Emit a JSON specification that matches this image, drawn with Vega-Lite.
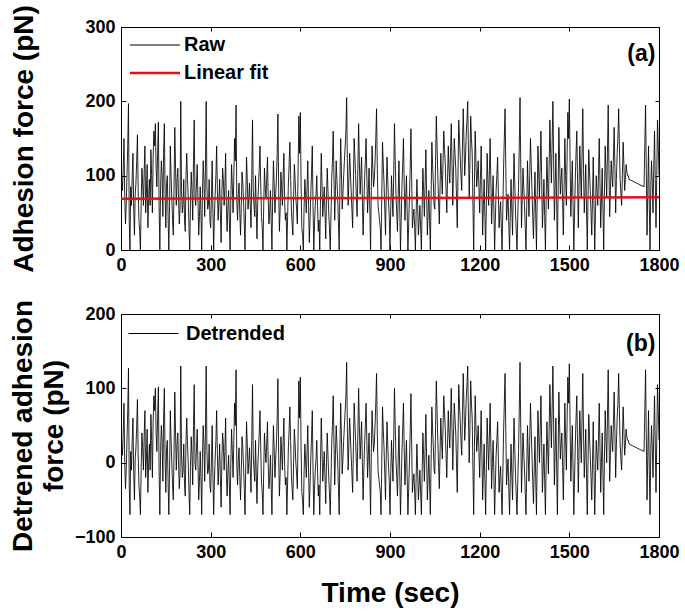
{
"$schema": "https://vega.github.io/schema/vega-lite/v6.json",
"padding": {"left": 8, "top": 4, "right": 10, "bottom": 4},
"background": "white",
"config": {
 "font": "Liberation Sans",
 "view": {"stroke": "black", "strokeWidth": 1},
 "axis": {"labelFont": "Liberation Sans", "labelFontWeight": "bold", "labelFontSize": 18, "labelColor": "black", "titleFont": "Liberation Sans", "titleFontWeight": "bold", "titleColor": "black", "grid": false, "domain": false, "tickColor": "black", "tickSize": -5, "labelPadding": 11, "labelFlush": false, "labelOverlap": false},
 "legend": {"orient": "none", "title": null, "symbolType": "stroke", "symbolSize": 2500, "labelFont": "Liberation Sans", "labelFontWeight": "bold", "labelFontSize": 20, "labelColor": "black", "labelOffset": 19, "rowPadding": 8, "padding": 0}
},
"datasets": {
 "s": [
{"t":0,"r":120,"d":50},{"t":5,"r":80,"d":10},{"t":10,"r":150,"d":80},{"t":15,"r":35,"d":-35},{"t":20,"r":100,"d":30},{"t":25,"r":197,"d":127},{"t":30,"r":0,"d":-70},{"t":35,"r":60,"d":-10},{"t":40,"r":130,"d":60},{"t":45,"r":20,"d":-50},
{"t":50,"r":90,"d":20},{"t":55,"r":155,"d":85},{"t":60,"r":40,"d":-30},{"t":65,"r":0,"d":-70},{"t":70,"r":110,"d":40},{"t":75,"r":60,"d":-10},{"t":80,"r":140,"d":70},{"t":85,"r":75,"d":5},{"t":90,"r":30,"d":-40},{"t":95,"r":95,"d":25},
{"t":100,"r":135,"d":65},{"t":105,"r":50,"d":-20},{"t":110,"r":160,"d":90},{"t":115,"r":170,"d":100},{"t":120,"r":85,"d":15},{"t":125,"r":172,"d":102},{"t":130,"r":0,"d":-70},{"t":135,"r":120,"d":50},{"t":140,"r":45,"d":-25},{"t":145,"r":170,"d":100},
{"t":150,"r":30,"d":-40},{"t":155,"r":100,"d":30},{"t":160,"r":0,"d":-70},{"t":165,"r":140,"d":70},{"t":170,"r":70,"d":0},{"t":175,"r":20,"d":-50},{"t":180,"r":165,"d":95},{"t":185,"r":60,"d":-10},{"t":190,"r":110,"d":40},{"t":195,"r":35,"d":-35},
{"t":200,"r":200,"d":130},{"t":205,"r":50,"d":-20},{"t":210,"r":95,"d":25},{"t":215,"r":25,"d":-45},{"t":220,"r":130,"d":60},{"t":225,"r":70,"d":0},{"t":230,"r":0,"d":-70},{"t":235,"r":105,"d":35},{"t":240,"r":40,"d":-30},{"t":245,"r":175,"d":105},
{"t":250,"r":60,"d":-10},{"t":255,"r":115,"d":45},{"t":260,"r":20,"d":-50},{"t":265,"r":85,"d":15},{"t":270,"r":0,"d":-70},{"t":275,"r":120,"d":50},{"t":280,"r":45,"d":-25},{"t":285,"r":200,"d":130},{"t":290,"r":55,"d":-15},{"t":295,"r":95,"d":25},
{"t":300,"r":30,"d":-40},{"t":305,"r":120,"d":50},{"t":310,"r":0,"d":-70},{"t":315,"r":75,"d":5},{"t":320,"r":140,"d":70},{"t":325,"r":40,"d":-30},{"t":330,"r":95,"d":25},{"t":335,"r":10,"d":-60},{"t":340,"r":110,"d":40},{"t":345,"r":60,"d":-10},
{"t":350,"r":130,"d":60},{"t":355,"r":25,"d":-45},{"t":360,"r":80,"d":10},{"t":365,"r":0,"d":-70},{"t":370,"r":115,"d":45},{"t":375,"r":50,"d":-20},{"t":380,"r":150,"d":80},{"t":385,"r":195,"d":125},{"t":390,"r":40,"d":-30},{"t":395,"r":90,"d":20},
{"t":400,"r":20,"d":-50},{"t":405,"r":105,"d":35},{"t":410,"r":65,"d":-5},{"t":415,"r":0,"d":-70},{"t":420,"r":125,"d":55},{"t":425,"r":55,"d":-15},{"t":430,"r":90,"d":20},{"t":435,"r":30,"d":-40},{"t":440,"r":175,"d":105},{"t":445,"r":60,"d":-10},
{"t":450,"r":100,"d":30},{"t":455,"r":15,"d":-55},{"t":460,"r":85,"d":15},{"t":465,"r":140,"d":70},{"t":470,"r":45,"d":-25},{"t":475,"r":0,"d":-70},{"t":480,"r":110,"d":40},{"t":485,"r":70,"d":0},{"t":490,"r":125,"d":55},{"t":495,"r":35,"d":-35},
{"t":500,"r":80,"d":10},{"t":505,"r":0,"d":-70},{"t":510,"r":120,"d":50},{"t":515,"r":50,"d":-20},{"t":520,"r":95,"d":25},{"t":525,"r":183,"d":113},{"t":530,"r":25,"d":-45},{"t":535,"r":105,"d":35},{"t":540,"r":60,"d":-10},{"t":545,"r":130,"d":60},
{"t":550,"r":40,"d":-30},{"t":555,"r":0,"d":-70},{"t":560,"r":90,"d":20},{"t":565,"r":145,"d":75},{"t":570,"r":55,"d":-15},{"t":575,"r":20,"d":-50},{"t":580,"r":115,"d":45},{"t":585,"r":70,"d":0},{"t":590,"r":35,"d":-35},{"t":595,"r":180,"d":110},
{"t":600,"r":185,"d":115},{"t":605,"r":30,"d":-40},{"t":610,"r":0,"d":-70},{"t":615,"r":95,"d":25},{"t":620,"r":50,"d":-20},{"t":625,"r":120,"d":50},{"t":630,"r":10,"d":-60},{"t":635,"r":75,"d":5},{"t":640,"r":140,"d":70},{"t":645,"r":0,"d":-70},
{"t":650,"r":60,"d":-10},{"t":655,"r":100,"d":30},{"t":660,"r":25,"d":-45},{"t":665,"r":0,"d":-70},{"t":670,"r":130,"d":60},{"t":675,"r":45,"d":-25},{"t":680,"r":85,"d":15},{"t":685,"r":15,"d":-55},{"t":690,"r":110,"d":40},{"t":695,"r":50,"d":-20},
{"t":700,"r":0,"d":-70},{"t":705,"r":95,"d":25},{"t":710,"r":160,"d":90},{"t":715,"r":40,"d":-30},{"t":720,"r":120,"d":50},{"t":725,"r":70,"d":0},{"t":730,"r":0,"d":-70},{"t":735,"r":150,"d":80},{"t":740,"r":55,"d":-15},{"t":745,"r":100,"d":30},
{"t":750,"r":140,"d":70},{"t":755,"r":205,"d":135},{"t":760,"r":60,"d":-10},{"t":765,"r":130,"d":60},{"t":770,"r":80,"d":10},{"t":775,"r":30,"d":-40},{"t":780,"r":150,"d":80},{"t":785,"r":100,"d":30},{"t":790,"r":45,"d":-25},{"t":795,"r":170,"d":100},
{"t":800,"r":75,"d":5},{"t":805,"r":125,"d":55},{"t":810,"r":20,"d":-50},{"t":815,"r":95,"d":25},{"t":820,"r":150,"d":80},{"t":825,"r":50,"d":-20},{"t":830,"r":110,"d":40},{"t":835,"r":0,"d":-70},{"t":840,"r":140,"d":70},{"t":845,"r":85,"d":15},
{"t":850,"r":120,"d":50},{"t":855,"r":190,"d":120},{"t":860,"r":60,"d":-10},{"t":865,"r":40,"d":-30},{"t":870,"r":0,"d":-70},{"t":875,"r":145,"d":75},{"t":880,"r":90,"d":20},{"t":885,"r":20,"d":-50},{"t":890,"r":125,"d":55},{"t":895,"r":65,"d":-5},
{"t":900,"r":0,"d":-70},{"t":905,"r":100,"d":30},{"t":910,"r":45,"d":-25},{"t":915,"r":170,"d":100},{"t":920,"r":75,"d":5},{"t":925,"r":25,"d":-45},{"t":930,"r":120,"d":50},{"t":935,"r":0,"d":-70},{"t":940,"r":85,"d":15},{"t":945,"r":150,"d":80},
{"t":950,"r":40,"d":-30},{"t":955,"r":100,"d":30},{"t":960,"r":0,"d":-70},{"t":965,"r":70,"d":0},{"t":970,"r":163,"d":93},{"t":975,"r":30,"d":-40},{"t":980,"r":55,"d":-15},{"t":985,"r":0,"d":-70},{"t":990,"r":95,"d":25},{"t":995,"r":20,"d":-50},
{"t":1000,"r":60,"d":-10},{"t":1005,"r":0,"d":-70},{"t":1010,"r":110,"d":40},{"t":1015,"r":45,"d":-25},{"t":1020,"r":135,"d":65},{"t":1025,"r":20,"d":-50},{"t":1030,"r":80,"d":10},{"t":1035,"r":0,"d":-70},{"t":1040,"r":145,"d":75},{"t":1045,"r":90,"d":20},
{"t":1050,"r":55,"d":-15},{"t":1055,"r":180,"d":110},{"t":1060,"r":100,"d":30},{"t":1065,"r":35,"d":-35},{"t":1070,"r":130,"d":60},{"t":1075,"r":75,"d":5},{"t":1080,"r":160,"d":90},{"t":1085,"r":115,"d":45},{"t":1090,"r":50,"d":-20},{"t":1095,"r":140,"d":70},
{"t":1100,"r":90,"d":20},{"t":1105,"r":170,"d":100},{"t":1110,"r":60,"d":-10},{"t":1115,"r":150,"d":80},{"t":1120,"r":110,"d":40},{"t":1125,"r":30,"d":-40},{"t":1130,"r":175,"d":105},{"t":1135,"r":125,"d":55},{"t":1140,"r":80,"d":10},{"t":1145,"r":190,"d":120},
{"t":1150,"r":100,"d":30},{"t":1155,"r":155,"d":85},{"t":1160,"r":200,"d":130},{"t":1165,"r":70,"d":0},{"t":1170,"r":180,"d":110},{"t":1175,"r":130,"d":60},{"t":1180,"r":0,"d":-70},{"t":1185,"r":160,"d":90},{"t":1190,"r":85,"d":15},{"t":1195,"r":120,"d":50},
{"t":1200,"r":50,"d":-20},{"t":1205,"r":140,"d":70},{"t":1210,"r":20,"d":-50},{"t":1215,"r":95,"d":25},{"t":1220,"r":0,"d":-70},{"t":1225,"r":130,"d":60},{"t":1230,"r":60,"d":-10},{"t":1235,"r":150,"d":80},{"t":1240,"r":35,"d":-35},{"t":1245,"r":100,"d":30},
{"t":1250,"r":0,"d":-70},{"t":1255,"r":80,"d":10},{"t":1260,"r":125,"d":55},{"t":1265,"r":30,"d":-40},{"t":1270,"r":65,"d":-5},{"t":1275,"r":0,"d":-70},{"t":1280,"r":110,"d":40},{"t":1285,"r":190,"d":120},{"t":1290,"r":40,"d":-30},{"t":1295,"r":75,"d":5},
{"t":1300,"r":0,"d":-70},{"t":1305,"r":95,"d":25},{"t":1310,"r":20,"d":-50},{"t":1315,"r":130,"d":60},{"t":1320,"r":50,"d":-20},{"t":1325,"r":0,"d":-70},{"t":1330,"r":85,"d":15},{"t":1335,"r":205,"d":135},{"t":1340,"r":30,"d":-40},{"t":1345,"r":110,"d":40},
{"t":1350,"r":60,"d":-10},{"t":1355,"r":0,"d":-70},{"t":1360,"r":120,"d":50},{"t":1365,"r":45,"d":-25},{"t":1370,"r":150,"d":80},{"t":1375,"r":80,"d":10},{"t":1380,"r":15,"d":-55},{"t":1385,"r":105,"d":35},{"t":1390,"r":0,"d":-70},{"t":1395,"r":140,"d":70},
{"t":1400,"r":70,"d":0},{"t":1405,"r":160,"d":90},{"t":1410,"r":30,"d":-40},{"t":1415,"r":95,"d":25},{"t":1420,"r":0,"d":-70},{"t":1425,"r":125,"d":55},{"t":1430,"r":55,"d":-15},{"t":1435,"r":175,"d":105},{"t":1440,"r":90,"d":20},{"t":1445,"r":200,"d":130},
{"t":1450,"r":40,"d":-30},{"t":1455,"r":130,"d":60},{"t":1460,"r":0,"d":-70},{"t":1465,"r":165,"d":95},{"t":1470,"r":75,"d":5},{"t":1475,"r":110,"d":40},{"t":1480,"r":20,"d":-50},{"t":1485,"r":150,"d":80},{"t":1490,"r":60,"d":-10},{"t":1495,"r":185,"d":115},
{"t":1500,"r":203,"d":133},{"t":1505,"r":45,"d":-25},{"t":1510,"r":120,"d":50},{"t":1515,"r":0,"d":-70},{"t":1520,"r":95,"d":25},{"t":1525,"r":160,"d":90},{"t":1530,"r":30,"d":-40},{"t":1535,"r":140,"d":70},{"t":1540,"r":70,"d":0},{"t":1545,"r":190,"d":120},
{"t":1550,"r":50,"d":-20},{"t":1555,"r":115,"d":45},{"t":1560,"r":0,"d":-70},{"t":1565,"r":135,"d":65},{"t":1570,"r":80,"d":10},{"t":1575,"r":20,"d":-50},{"t":1580,"r":125,"d":55},{"t":1585,"r":0,"d":-70},{"t":1590,"r":100,"d":30},{"t":1595,"r":60,"d":-10},
{"t":1600,"r":150,"d":80},{"t":1605,"r":30,"d":-40},{"t":1610,"r":110,"d":40},{"t":1615,"r":0,"d":-70},{"t":1620,"r":140,"d":70},{"t":1625,"r":70,"d":0},{"t":1630,"r":195,"d":125},{"t":1635,"r":45,"d":-25},{"t":1640,"r":120,"d":50},{"t":1645,"r":85,"d":15},
{"t":1650,"r":165,"d":95},{"t":1655,"r":50,"d":-20},{"t":1660,"r":130,"d":60},{"t":1665,"r":190,"d":120},{"t":1670,"r":95,"d":25},{"t":1675,"r":60,"d":-10},{"t":1680,"r":145,"d":75},{"t":1685,"r":80,"d":10},{"t":1690,"r":115,"d":45},{"t":1695,"r":100,"d":30},
{"t":1700,"r":95,"d":25},
{"t":1750,"r":85,"d":15},{"t":1755,"r":195,"d":125},{"t":1760,"r":20,"d":-50},{"t":1765,"r":140,"d":70},{"t":1770,"r":0,"d":-70},{"t":1775,"r":120,"d":50},{"t":1780,"r":50,"d":-20},{"t":1785,"r":160,"d":90},{"t":1790,"r":30,"d":-40},{"t":1795,"r":175,"d":105},{"t":1800,"r":100,"d":30},
{"t":2.5,"r":95,"d":25},{"t":7.5,"r":110,"d":40},{"t":12.5,"r":70,"d":0},{"t":17.5,"r":60,"d":-10},{"t":22.5,"r":140,"d":70},{"t":27.5,"r":40,"d":-30},{"t":32.5,"r":85,"d":15},{"t":37.5,"r":100,"d":30},{"t":42.5,"r":55,"d":-15},{"t":47.5,"r":75,"d":5},
{"t":52.5,"r":120,"d":50},{"t":57.5,"r":80,"d":10},{"t":62.5,"r":25,"d":-45},{"t":67.5,"r":65,"d":-5},{"t":72.5,"r":90,"d":20},{"t":77.5,"r":105,"d":35},{"t":82.5,"r":50,"d":-20},{"t":87.5,"r":115,"d":45},{"t":92.5,"r":70,"d":0},{"t":97.5,"r":60,"d":-10},
{"t":102.5,"r":100,"d":30},{"t":107.5,"r":125,"d":55},{"t":112.5,"r":140,"d":70},{"t":117.5,"r":110,"d":40},{"t":122.5,"r":130,"d":60},{"t":127.5,"r":60,"d":-10},{"t":132.5,"r":85,"d":15},{"t":137.5,"r":100,"d":30},{"t":142.5,"r":130,"d":60},{"t":147.5,"r":75,"d":5},
{"t":152.5,"r":90,"d":20},{"t":157.5,"r":45,"d":-25},{"t":162.5,"r":60,"d":-10},{"t":167.5,"r":100,"d":30},{"t":172.5,"r":40,"d":-30},{"t":177.5,"r":85,"d":15},{"t":182.5,"r":110,"d":40},{"t":187.5,"r":95,"d":25},{"t":192.5,"r":70,"d":0},{"t":197.5,"r":55,"d":-15},
{"t":202.5,"r":80,"d":10},{"t":207.5,"r":60,"d":-10},{"t":212.5,"r":40,"d":-30},{"t":217.5,"r":100,"d":30},{"t":222.5,"r":95,"d":25},{"t":227.5,"r":30,"d":-40},{"t":232.5,"r":65,"d":-5},{"t":237.5,"r":80,"d":10},{"t":242.5,"r":120,"d":50},{"t":247.5,"r":70,"d":0},
{"t":252.5,"r":90,"d":20},{"t":257.5,"r":70,"d":0},{"t":262.5,"r":45,"d":-25},{"t":267.5,"r":50,"d":-20},{"t":272.5,"r":75,"d":5},{"t":277.5,"r":95,"d":25},{"t":282.5,"r":110,"d":40},{"t":287.5,"r":85,"d":15},{"t":292.5,"r":60,"d":-10},{"t":297.5,"r":40,"d":-30},
{"t":302.5,"r":70,"d":0},{"t":307.5,"r":55,"d":-15},{"t":312.5,"r":45,"d":-25},{"t":317.5,"r":100,"d":30},{"t":322.5,"r":80,"d":10},{"t":327.5,"r":65,"d":-5},{"t":332.5,"r":50,"d":-20},{"t":337.5,"r":75,"d":5},{"t":342.5,"r":95,"d":25},{"t":347.5,"r":85,"d":15},
{"t":352.5,"r":60,"d":-10},{"t":357.5,"r":55,"d":-15},{"t":362.5,"r":40,"d":-30},{"t":367.5,"r":70,"d":0},{"t":372.5,"r":85,"d":15},{"t":377.5,"r":100,"d":30},{"t":382.5,"r":120,"d":50},{"t":387.5,"r":65,"d":-5},{"t":392.5,"r":75,"d":5},{"t":397.5,"r":50,"d":-20},
{"t":402.5,"r":60,"d":-10},{"t":407.5,"r":90,"d":20},{"t":412.5,"r":35,"d":-35},{"t":417.5,"r":70,"d":0},{"t":422.5,"r":95,"d":25},{"t":427.5,"r":70,"d":0},{"t":432.5,"r":60,"d":-10},{"t":437.5,"r":100,"d":30},{"t":442.5,"r":80,"d":10},{"t":447.5,"r":45,"d":-25},
{"t":452.5,"r":55,"d":-15},{"t":457.5,"r":65,"d":-5},{"t":462.5,"r":110,"d":40},{"t":467.5,"r":90,"d":20},{"t":472.5,"r":30,"d":-40},{"t":477.5,"r":60,"d":-10},{"t":482.5,"r":85,"d":15},{"t":487.5,"r":95,"d":25},{"t":492.5,"r":70,"d":0},{"t":497.5,"r":50,"d":-20},
{"t":502.5,"r":40,"d":-30},{"t":507.5,"r":70,"d":0},{"t":512.5,"r":90,"d":20},{"t":517.5,"r":75,"d":5},{"t":522.5,"r":130,"d":60},{"t":527.5,"r":80,"d":10},{"t":532.5,"r":55,"d":-15},{"t":537.5,"r":85,"d":15},{"t":542.5,"r":100,"d":30},{"t":547.5,"r":65,"d":-5},
{"t":552.5,"r":50,"d":-20},{"t":557.5,"r":45,"d":-25},{"t":562.5,"r":115,"d":45},{"t":567.5,"r":100,"d":30},{"t":572.5,"r":35,"d":-35},{"t":577.5,"r":70,"d":0},{"t":582.5,"r":95,"d":25},{"t":587.5,"r":55,"d":-15},{"t":592.5,"r":105,"d":35},{"t":597.5,"r":130,"d":60},
{"t":602.5,"r":90,"d":20},{"t":607.5,"r":20,"d":-50},{"t":612.5,"r":55,"d":-15},{"t":617.5,"r":75,"d":5},{"t":622.5,"r":85,"d":15},{"t":627.5,"r":60,"d":-10},{"t":632.5,"r":40,"d":-30},{"t":637.5,"r":105,"d":35},{"t":642.5,"r":60,"d":-10},{"t":647.5,"r":35,"d":-35},
{"t":652.5,"r":75,"d":5},{"t":657.5,"r":60,"d":-10},{"t":662.5,"r":40,"d":-30},{"t":667.5,"r":70,"d":0},{"t":672.5,"r":90,"d":20},{"t":677.5,"r":65,"d":-5},{"t":682.5,"r":50,"d":-20},{"t":687.5,"r":70,"d":0},{"t":692.5,"r":80,"d":10},{"t":697.5,"r":30,"d":-40},
{"t":702.5,"r":45,"d":-25},{"t":707.5,"r":120,"d":50},{"t":712.5,"r":100,"d":30},{"t":717.5,"r":80,"d":10},{"t":722.5,"r":95,"d":25},{"t":727.5,"r":35,"d":-35},{"t":732.5,"r":90,"d":20},{"t":737.5,"r":105,"d":35},{"t":742.5,"r":75,"d":5},{"t":747.5,"r":120,"d":50},
{"t":752.5,"r":160,"d":90},{"t":757.5,"r":110,"d":40},{"t":762.5,"r":95,"d":25},{"t":767.5,"r":105,"d":35},{"t":772.5,"r":55,"d":-15},{"t":777.5,"r":90,"d":20},{"t":782.5,"r":125,"d":55},{"t":787.5,"r":70,"d":0},{"t":792.5,"r":110,"d":40},{"t":797.5,"r":120,"d":50},
{"t":802.5,"r":100,"d":30},{"t":807.5,"r":70,"d":0},{"t":812.5,"r":60,"d":-10},{"t":817.5,"r":120,"d":50},{"t":822.5,"r":100,"d":30},{"t":827.5,"r":80,"d":10},{"t":832.5,"r":55,"d":-15},{"t":837.5,"r":85,"d":15},{"t":842.5,"r":110,"d":40},{"t":847.5,"r":95,"d":25},
{"t":852.5,"r":150,"d":80},{"t":857.5,"r":110,"d":40},{"t":862.5,"r":50,"d":-20},{"t":867.5,"r":30,"d":-40},{"t":872.5,"r":70,"d":0},{"t":877.5,"r":115,"d":45},{"t":882.5,"r":55,"d":-15},{"t":887.5,"r":80,"d":10},{"t":892.5,"r":95,"d":25},{"t":897.5,"r":45,"d":-25},
{"t":902.5,"r":55,"d":-15},{"t":907.5,"r":70,"d":0},{"t":912.5,"r":105,"d":35},{"t":917.5,"r":120,"d":50},{"t":922.5,"r":50,"d":-20},{"t":927.5,"r":75,"d":5},{"t":932.5,"r":60,"d":-10},{"t":937.5,"r":40,"d":-30},{"t":942.5,"r":115,"d":45},{"t":947.5,"r":90,"d":20},
{"t":952.5,"r":70,"d":0},{"t":957.5,"r":50,"d":-20},{"t":962.5,"r":35,"d":-35},{"t":967.5,"r":110,"d":40},{"t":972.5,"r":95,"d":25},{"t":977.5,"r":45,"d":-25},{"t":982.5,"r":30,"d":-40},{"t":987.5,"r":50,"d":-20},{"t":992.5,"r":60,"d":-10},{"t":997.5,"r":40,"d":-30},
{"t":1002.5,"r":30,"d":-40},{"t":1007.5,"r":55,"d":-15},{"t":1012.5,"r":80,"d":10},{"t":1017.5,"r":90,"d":20},{"t":1022.5,"r":75,"d":5},{"t":1027.5,"r":50,"d":-20},{"t":1032.5,"r":40,"d":-30},{"t":1037.5,"r":70,"d":0},{"t":1042.5,"r":115,"d":45},{"t":1047.5,"r":60,"d":-10},
{"t":1052.5,"r":120,"d":50},{"t":1057.5,"r":140,"d":70},{"t":1062.5,"r":65,"d":-5},{"t":1067.5,"r":85,"d":15},{"t":1072.5,"r":100,"d":30},{"t":1077.5,"r":120,"d":50},{"t":1082.5,"r":135,"d":65},{"t":1087.5,"r":80,"d":10},{"t":1092.5,"r":95,"d":25},{"t":1097.5,"r":110,"d":40},
{"t":1102.5,"r":130,"d":60},{"t":1107.5,"r":115,"d":45},{"t":1112.5,"r":105,"d":35},{"t":1117.5,"r":130,"d":60},{"t":1122.5,"r":70,"d":0},{"t":1127.5,"r":100,"d":30},{"t":1132.5,"r":150,"d":80},{"t":1137.5,"r":100,"d":30},{"t":1142.5,"r":140,"d":70},{"t":1147.5,"r":145,"d":75},
{"t":1152.5,"r":125,"d":55},{"t":1157.5,"r":175,"d":105},{"t":1162.5,"r":130,"d":60},{"t":1167.5,"r":120,"d":50},{"t":1172.5,"r":150,"d":80},{"t":1177.5,"r":60,"d":-10},{"t":1182.5,"r":90,"d":20},{"t":1187.5,"r":120,"d":50},{"t":1192.5,"r":100,"d":30},{"t":1197.5,"r":85,"d":15},
{"t":1202.5,"r":95,"d":25},{"t":1207.5,"r":80,"d":10},{"t":1212.5,"r":60,"d":-10},{"t":1217.5,"r":45,"d":-25},{"t":1222.5,"r":65,"d":-5},{"t":1227.5,"r":95,"d":25},{"t":1232.5,"r":105,"d":35},{"t":1237.5,"r":90,"d":20},{"t":1242.5,"r":70,"d":0},{"t":1247.5,"r":55,"d":-15},
{"t":1252.5,"r":40,"d":-30},{"t":1257.5,"r":100,"d":30},{"t":1262.5,"r":75,"d":5},{"t":1267.5,"r":50,"d":-20},{"t":1272.5,"r":30,"d":-40},{"t":1277.5,"r":55,"d":-15},{"t":1282.5,"r":150,"d":80},{"t":1287.5,"r":110,"d":40},{"t":1292.5,"r":60,"d":-10},{"t":1297.5,"r":35,"d":-35},
{"t":1302.5,"r":50,"d":-20},{"t":1307.5,"r":55,"d":-15},{"t":1312.5,"r":80,"d":10},{"t":1317.5,"r":90,"d":20},{"t":1322.5,"r":25,"d":-45},{"t":1327.5,"r":45,"d":-25},{"t":1332.5,"r":140,"d":70},{"t":1337.5,"r":115,"d":45},{"t":1342.5,"r":70,"d":0},{"t":1347.5,"r":85,"d":15},
{"t":1352.5,"r":30,"d":-40},{"t":1357.5,"r":60,"d":-10},{"t":1362.5,"r":80,"d":10},{"t":1367.5,"r":100,"d":30},{"t":1372.5,"r":115,"d":45},{"t":1377.5,"r":45,"d":-25},{"t":1382.5,"r":60,"d":-10},{"t":1387.5,"r":50,"d":-20},{"t":1392.5,"r":70,"d":0},{"t":1397.5,"r":105,"d":35},
{"t":1402.5,"r":115,"d":45},{"t":1407.5,"r":95,"d":25},{"t":1412.5,"r":60,"d":-10},{"t":1417.5,"r":45,"d":-25},{"t":1422.5,"r":65,"d":-5},{"t":1427.5,"r":90,"d":20},{"t":1432.5,"r":115,"d":45},{"t":1437.5,"r":130,"d":60},{"t":1442.5,"r":145,"d":75},{"t":1447.5,"r":120,"d":50},
{"t":1452.5,"r":85,"d":15},{"t":1457.5,"r":65,"d":-5},{"t":1462.5,"r":80,"d":10},{"t":1467.5,"r":120,"d":50},{"t":1472.5,"r":95,"d":25},{"t":1477.5,"r":65,"d":-5},{"t":1482.5,"r":85,"d":15},{"t":1487.5,"r":100,"d":30},{"t":1492.5,"r":125,"d":55},{"t":1497.5,"r":150,"d":80},
{"t":1502.5,"r":120,"d":50},{"t":1507.5,"r":85,"d":15},{"t":1512.5,"r":60,"d":-10},{"t":1517.5,"r":50,"d":-20},{"t":1522.5,"r":130,"d":60},{"t":1527.5,"r":95,"d":25},{"t":1532.5,"r":85,"d":15},{"t":1537.5,"r":105,"d":35},{"t":1542.5,"r":130,"d":60},{"t":1547.5,"r":110,"d":40},
{"t":1552.5,"r":80,"d":10},{"t":1557.5,"r":55,"d":-15},{"t":1562.5,"r":70,"d":0},{"t":1567.5,"r":105,"d":35},{"t":1572.5,"r":50,"d":-20},{"t":1577.5,"r":70,"d":0},{"t":1582.5,"r":60,"d":-10},{"t":1587.5,"r":50,"d":-20},{"t":1592.5,"r":80,"d":10},{"t":1597.5,"r":100,"d":30},
{"t":1602.5,"r":90,"d":20},{"t":1607.5,"r":70,"d":0},{"t":1612.5,"r":55,"d":-15},{"t":1617.5,"r":75,"d":5},{"t":1622.5,"r":105,"d":35},{"t":1627.5,"r":130,"d":60},{"t":1632.5,"r":110,"d":40},{"t":1637.5,"r":80,"d":10},{"t":1642.5,"r":100,"d":30},{"t":1647.5,"r":125,"d":55},
{"t":1652.5,"r":110,"d":40},{"t":1657.5,"r":95,"d":25},{"t":1662.5,"r":150,"d":80},{"t":1667.5,"r":140,"d":70},{"t":1672.5,"r":75,"d":5},{"t":1677.5,"r":100,"d":30},{"t":1682.5,"r":115,"d":45},{"t":1687.5,"r":95,"d":25},{"t":1692.5,"r":105,"d":35},{"t":1697.5,"r":100,"d":30},
{"t":1752.5,"r":140,"d":70},{"t":1757.5,"r":105,"d":35},{"t":1762.5,"r":80,"d":10},{"t":1767.5,"r":60,"d":-10},{"t":1772.5,"r":85,"d":15},{"t":1777.5,"r":90,"d":20},{"t":1782.5,"r":110,"d":40},{"t":1787.5,"r":95,"d":25},{"t":1792.5,"r":100,"d":30},{"t":1797.5,"r":140,"d":70}
 ],
 "fit": [{"t":0,"v":69},{"t":1800,"v":71}],
 "tagA": [{"t":1788,"v":264,"lab":"(a)"}],
 "tagB": [{"t":1788,"v":160,"lab":"(b)"}]
},
"spacing": 23,
"resolve": {"scale": {"color": "independent"}, "legend": {"color": "independent"}},
"vconcat": [
 {
  "width": 538, "height": 223,
  "resolve": {"axis": {"x": "independent", "y": "independent"}},
  "layer": [
   {
    "data": {"name": "s"},
    "mark": {"type": "line", "strokeWidth": 0.85, "clip": true},
    "encoding": {
     "x": {"field": "t", "type": "quantitative", "scale": {"domain": [0, 1800]}, "axis": {"values": [0, 300, 600, 900, 1200, 1500, 1800], "format": "d", "title": null}},
     "y": {"field": "r", "type": "quantitative", "scale": {"domain": [0, 300]}, "axis": {"values": [0, 100, 200, 300], "title": "Adhesion force (pN)", "titleFontSize": 28, "titlePadding": 46}},
     "color": {"datum": "Raw", "type": "nominal", "scale": {"domain": ["Raw", "Linear fit"], "range": ["black", "#e3101a"]}, "legend": {"legendX": 24, "legendY": 8, "encode": {"symbols": {"update": {"strokeWidth": {"signal": "datum.value === 'Linear fit' ? 2.5 : 1"}}}}}}
    }
   },
   {
    "data": {"name": "fit"},
    "mark": {"type": "line", "strokeWidth": 2.5},
    "encoding": {
     "x": {"field": "t", "type": "quantitative", "axis": {"orient": "top", "values": [0, 300, 600, 900, 1200, 1500, 1800], "labels": false, "title": null, "tickSize": -4}},
     "y": {"field": "v", "type": "quantitative", "axis": {"orient": "right", "values": [0, 100, 200, 300], "labels": false, "title": null, "tickSize": -4}},
     "color": {"datum": "Linear fit", "type": "nominal"}
    }
   },
   {
    "data": {"name": "tagA"},
    "mark": {"type": "text", "align": "right", "baseline": "middle", "fontSize": 23, "fontWeight": "bold", "font": "Liberation Sans", "color": "black"},
    "encoding": {
     "x": {"field": "t", "type": "quantitative", "axis": null},
     "y": {"field": "v", "type": "quantitative", "axis": null},
     "text": {"field": "lab"}
    }
   }
  ]
 },
 {
  "width": 538, "height": 223,
  "resolve": {"axis": {"x": "independent", "y": "independent"}},
  "layer": [
   {
    "data": {"name": "s"},
    "mark": {"type": "line", "strokeWidth": 0.85, "clip": true},
    "encoding": {
     "x": {"field": "t", "type": "quantitative", "scale": {"domain": [0, 1800]}, "axis": {"values": [0, 300, 600, 900, 1200, 1500, 1800], "format": "d", "title": "Time (sec)", "titleFontSize": 28, "titlePadding": 18}},
     "y": {"field": "d", "type": "quantitative", "scale": {"domain": [-100, 200]}, "axis": {"values": [-100, 0, 100, 200], "title": ["Detrened adhesion", "force (pN)"], "titleFontSize": 28, "titleLineHeight": 31, "titlePadding": 6}},
     "color": {"datum": "Detrended", "type": "nominal", "scale": {"domain": ["Detrended"], "range": ["black"]}, "legend": {"legendX": 7, "legendY": -6, "labelOffset": 7, "symbolStrokeWidth": 1}}
    }
   },
   {
    "data": {"name": "tagB"},
    "mark": {"type": "text", "align": "right", "baseline": "middle", "fontSize": 23, "fontWeight": "bold", "font": "Liberation Sans", "color": "black"},
    "encoding": {
     "x": {"field": "t", "type": "quantitative", "axis": {"orient": "top", "values": [0, 300, 600, 900, 1200, 1500, 1800], "labels": false, "title": null, "tickSize": -4}},
     "y": {"field": "v", "type": "quantitative", "axis": {"orient": "right", "values": [-100, 0, 100, 200], "labels": false, "title": null, "tickSize": -4}},
     "text": {"field": "lab"}
    }
   }
  ]
 }
]
}
